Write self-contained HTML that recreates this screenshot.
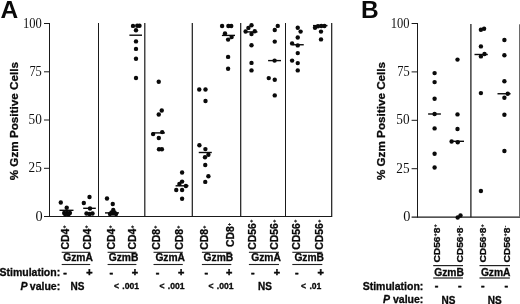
<!DOCTYPE html>
<html><head><meta charset="utf-8"><title>Figure</title>
<style>
html,body{margin:0;padding:0;background:#fff;}
body{width:520px;height:304px;position:relative;overflow:hidden;font-family:"Liberation Sans",sans-serif;}
svg text{font-family:"Liberation Sans",sans-serif;fill:#0a0a0a;}
.tk{font-family:"Liberation Serif",serif;font-size:13.8px;fill:#111;}
.pl{font-size:24.5px;font-weight:bold;}
.yl{font-size:11.7px;font-weight:bold;stroke:#0a0a0a;stroke-width:0.3px;}
.cl{font-size:10.5px;font-weight:bold;stroke:#0a0a0a;stroke-width:0.3px;}
.sp{font-size:5.6px;font-weight:bold;stroke-width:0.15px;}
.gz{font-size:10.25px;font-weight:bold;stroke:#0a0a0a;stroke-width:0.3px;}
.st{font-size:10.5px;font-weight:bold;stroke:#0a0a0a;stroke-width:0.3px;}
.pm{font-size:10.8px;font-weight:bold;stroke:#0a0a0a;stroke-width:0.5px;}
.pv{font-size:8.6px;font-weight:bold;stroke:#0a0a0a;stroke-width:0.3px;}
.ns{font-size:10px;font-weight:bold;stroke:#0a0a0a;stroke-width:0.3px;}
</style></head><body>
<svg width="520" height="304" viewBox="0 0 520 304" style="position:absolute;left:0;top:0;will-change:transform;opacity:0.999">
<rect width="520" height="304" fill="#fff"/>
<line x1="49.5" y1="23" x2="49.5" y2="217.0" stroke="#1a1a1a" stroke-width="1"/>
<line x1="44" y1="216.5" x2="332.2" y2="216.5" stroke="#1a1a1a" stroke-width="1"/>
<line x1="44" y1="23.5" x2="49.5" y2="23.5" stroke="#1a1a1a" stroke-width="1"/>
<line x1="44" y1="71.8" x2="49.5" y2="71.8" stroke="#1a1a1a" stroke-width="1"/>
<line x1="44" y1="120" x2="49.5" y2="120" stroke="#1a1a1a" stroke-width="1"/>
<line x1="44" y1="168.3" x2="49.5" y2="168.3" stroke="#1a1a1a" stroke-width="1"/>
<text transform="translate(41.8,27.6) scale(0.91,1)" text-anchor="end" class="tk">100</text>
<text transform="translate(41.8,75.89999999999999) scale(0.9,1)" text-anchor="end" class="tk">75</text>
<text transform="translate(41.8,124.1) scale(0.96,1)" text-anchor="end" class="tk">50</text>
<text transform="translate(41.8,172.4) scale(0.96,1)" text-anchor="end" class="tk">25</text>
<text transform="translate(42.699999999999996,220.6) scale(1.04,1)" text-anchor="end" class="tk">0</text>
<line x1="417.5" y1="23" x2="417.5" y2="217.65" stroke="#1a1a1a" stroke-width="1"/>
<line x1="411.6" y1="217.15" x2="520" y2="217.15" stroke="#1a1a1a" stroke-width="1.25"/>
<line x1="411.6" y1="23.5" x2="417.5" y2="23.5" stroke="#1a1a1a" stroke-width="1"/>
<line x1="411.6" y1="71.9" x2="417.5" y2="71.9" stroke="#1a1a1a" stroke-width="1"/>
<line x1="411.6" y1="120.3" x2="417.5" y2="120.3" stroke="#1a1a1a" stroke-width="1"/>
<line x1="411.6" y1="168.7" x2="417.5" y2="168.7" stroke="#1a1a1a" stroke-width="1"/>
<text transform="translate(409.6,27.6) scale(0.91,1)" text-anchor="end" class="tk">100</text>
<text transform="translate(409.6,76.0) scale(0.9,1)" text-anchor="end" class="tk">75</text>
<text transform="translate(409.6,124.39999999999999) scale(0.96,1)" text-anchor="end" class="tk">50</text>
<text transform="translate(409.6,172.79999999999998) scale(0.96,1)" text-anchor="end" class="tk">25</text>
<text transform="translate(410.5,221.25) scale(1.04,1)" text-anchor="end" class="tk">0</text>
<line x1="98.5" y1="23" x2="98.5" y2="216.5" stroke="#1a1a1a" stroke-width="1"/>
<line x1="144.8" y1="23" x2="144.8" y2="216.5" stroke="#1a1a1a" stroke-width="1.2"/>
<line x1="192.3" y1="23" x2="192.3" y2="216.5" stroke="#1a1a1a" stroke-width="1.2"/>
<line x1="240.7" y1="23" x2="240.7" y2="216.5" stroke="#1a1a1a" stroke-width="1.2"/>
<line x1="285.5" y1="23" x2="285.5" y2="216.5" stroke="#1a1a1a" stroke-width="1"/>
<line x1="331.7" y1="23" x2="331.7" y2="216.5" stroke="#1a1a1a" stroke-width="1.2"/>
<line x1="470.9" y1="24" x2="470.9" y2="217.15" stroke="#1a1a1a" stroke-width="1.25"/>
<line x1="519.5" y1="24.3" x2="519.5" y2="217.15" stroke="#6a6a6a" stroke-width="1"/>
<circle cx="60.8" cy="202.5" r="2.2" fill="#0a0a0a"/>
<circle cx="66.7" cy="207.7" r="2.2" fill="#0a0a0a"/>
<circle cx="64.2" cy="212.9" r="2.2" fill="#0a0a0a"/>
<circle cx="67.1" cy="212.9" r="2.2" fill="#0a0a0a"/>
<circle cx="69.9" cy="212.9" r="2.2" fill="#0a0a0a"/>
<circle cx="65.2" cy="214.3" r="2.2" fill="#0a0a0a"/>
<circle cx="68.6" cy="214.3" r="2.2" fill="#0a0a0a"/>
<circle cx="89.5" cy="197" r="2.2" fill="#0a0a0a"/>
<circle cx="83.8" cy="203" r="2.2" fill="#0a0a0a"/>
<circle cx="90" cy="208.5" r="2.2" fill="#0a0a0a"/>
<circle cx="86.5" cy="213.5" r="2.2" fill="#0a0a0a"/>
<circle cx="89.5" cy="214" r="2.2" fill="#0a0a0a"/>
<circle cx="92.5" cy="213.5" r="2.2" fill="#0a0a0a"/>
<circle cx="107" cy="198.5" r="2.2" fill="#0a0a0a"/>
<circle cx="112.75" cy="204" r="2.2" fill="#0a0a0a"/>
<circle cx="113.25" cy="210" r="2.2" fill="#0a0a0a"/>
<circle cx="110" cy="214" r="2.2" fill="#0a0a0a"/>
<circle cx="113" cy="213.5" r="2.2" fill="#0a0a0a"/>
<circle cx="116" cy="214" r="2.2" fill="#0a0a0a"/>
<circle cx="111.5" cy="212.5" r="2.2" fill="#0a0a0a"/>
<circle cx="114.5" cy="212.5" r="2.2" fill="#0a0a0a"/>
<circle cx="133" cy="25.9" r="2.2" fill="#0a0a0a"/>
<circle cx="137.2" cy="25.8" r="2.2" fill="#0a0a0a"/>
<circle cx="139.5" cy="25.8" r="2.2" fill="#0a0a0a"/>
<circle cx="136" cy="30.2" r="2.2" fill="#0a0a0a"/>
<circle cx="136" cy="41.4" r="2.2" fill="#0a0a0a"/>
<circle cx="136" cy="48.9" r="2.2" fill="#0a0a0a"/>
<circle cx="136" cy="58.75" r="2.2" fill="#0a0a0a"/>
<circle cx="136" cy="78" r="2.2" fill="#0a0a0a"/>
<circle cx="158.75" cy="81.75" r="2.2" fill="#0a0a0a"/>
<circle cx="161.75" cy="110.5" r="2.2" fill="#0a0a0a"/>
<circle cx="158.75" cy="114.5" r="2.2" fill="#0a0a0a"/>
<circle cx="162.2" cy="132.1" r="2.2" fill="#0a0a0a"/>
<circle cx="153.1" cy="134.1" r="2.2" fill="#0a0a0a"/>
<circle cx="158.8" cy="138" r="2.2" fill="#0a0a0a"/>
<circle cx="159" cy="149.3" r="2.2" fill="#0a0a0a"/>
<circle cx="161.9" cy="149.3" r="2.2" fill="#0a0a0a"/>
<circle cx="182.1" cy="172.5" r="2.2" fill="#0a0a0a"/>
<circle cx="182.1" cy="181.6" r="2.2" fill="#0a0a0a"/>
<circle cx="179.4" cy="184" r="2.2" fill="#0a0a0a"/>
<circle cx="185.9" cy="186" r="2.2" fill="#0a0a0a"/>
<circle cx="176.25" cy="190" r="2.2" fill="#0a0a0a"/>
<circle cx="182.1" cy="190" r="2.2" fill="#0a0a0a"/>
<circle cx="182.1" cy="198.75" r="2.2" fill="#0a0a0a"/>
<circle cx="199.25" cy="89.5" r="2.2" fill="#0a0a0a"/>
<circle cx="205.5" cy="89.5" r="2.2" fill="#0a0a0a"/>
<circle cx="205.5" cy="101" r="2.2" fill="#0a0a0a"/>
<circle cx="199.4" cy="145.25" r="2.2" fill="#0a0a0a"/>
<circle cx="205.4" cy="149.1" r="2.2" fill="#0a0a0a"/>
<circle cx="208.4" cy="154.75" r="2.2" fill="#0a0a0a"/>
<circle cx="205" cy="157.25" r="2.2" fill="#0a0a0a"/>
<circle cx="205.25" cy="165" r="2.2" fill="#0a0a0a"/>
<circle cx="208.4" cy="176.25" r="2.2" fill="#0a0a0a"/>
<circle cx="205.25" cy="181.9" r="2.2" fill="#0a0a0a"/>
<circle cx="222.1" cy="26" r="2.2" fill="#0a0a0a"/>
<circle cx="228.4" cy="26" r="2.2" fill="#0a0a0a"/>
<circle cx="231.25" cy="26" r="2.2" fill="#0a0a0a"/>
<circle cx="225" cy="33.5" r="2.2" fill="#0a0a0a"/>
<circle cx="231.6" cy="37.1" r="2.2" fill="#0a0a0a"/>
<circle cx="228.1" cy="39.6" r="2.2" fill="#0a0a0a"/>
<circle cx="228.1" cy="56.9" r="2.2" fill="#0a0a0a"/>
<circle cx="228.1" cy="68.75" r="2.2" fill="#0a0a0a"/>
<circle cx="251.5" cy="25.25" r="2.2" fill="#0a0a0a"/>
<circle cx="248.4" cy="27.9" r="2.2" fill="#0a0a0a"/>
<circle cx="245.6" cy="31.5" r="2.2" fill="#0a0a0a"/>
<circle cx="254.75" cy="31.25" r="2.2" fill="#0a0a0a"/>
<circle cx="251.5" cy="34" r="2.2" fill="#0a0a0a"/>
<circle cx="251.5" cy="45.25" r="2.2" fill="#0a0a0a"/>
<circle cx="251.5" cy="62.9" r="2.2" fill="#0a0a0a"/>
<circle cx="251.5" cy="70.4" r="2.2" fill="#0a0a0a"/>
<circle cx="277.75" cy="25.9" r="2.2" fill="#0a0a0a"/>
<circle cx="274.75" cy="30" r="2.2" fill="#0a0a0a"/>
<circle cx="274.75" cy="41.6" r="2.2" fill="#0a0a0a"/>
<circle cx="274.6" cy="60.6" r="2.2" fill="#0a0a0a"/>
<circle cx="268.75" cy="78.1" r="2.2" fill="#0a0a0a"/>
<circle cx="274.75" cy="79.75" r="2.2" fill="#0a0a0a"/>
<circle cx="274.75" cy="95.4" r="2.2" fill="#0a0a0a"/>
<circle cx="297.75" cy="27.75" r="2.2" fill="#0a0a0a"/>
<circle cx="300.6" cy="31.6" r="2.2" fill="#0a0a0a"/>
<circle cx="297.75" cy="37.5" r="2.2" fill="#0a0a0a"/>
<circle cx="292.1" cy="43.4" r="2.2" fill="#0a0a0a"/>
<circle cx="297.75" cy="45.4" r="2.2" fill="#0a0a0a"/>
<circle cx="297.75" cy="53.1" r="2.2" fill="#0a0a0a"/>
<circle cx="292.1" cy="60.6" r="2.2" fill="#0a0a0a"/>
<circle cx="297.75" cy="63.1" r="2.2" fill="#0a0a0a"/>
<circle cx="297.75" cy="70.4" r="2.2" fill="#0a0a0a"/>
<circle cx="315" cy="27.75" r="2.2" fill="#0a0a0a"/>
<circle cx="318" cy="26.25" r="2.2" fill="#0a0a0a"/>
<circle cx="321.25" cy="26" r="2.2" fill="#0a0a0a"/>
<circle cx="324.4" cy="26" r="2.2" fill="#0a0a0a"/>
<circle cx="321" cy="31.6" r="2.2" fill="#0a0a0a"/>
<circle cx="321" cy="39.4" r="2.2" fill="#0a0a0a"/>
<circle cx="434.6" cy="73.1" r="2.2" fill="#0a0a0a"/>
<circle cx="434.6" cy="82.1" r="2.2" fill="#0a0a0a"/>
<circle cx="434.6" cy="98.75" r="2.2" fill="#0a0a0a"/>
<circle cx="434.6" cy="114" r="2.2" fill="#0a0a0a"/>
<circle cx="434.6" cy="128.4" r="2.2" fill="#0a0a0a"/>
<circle cx="434.6" cy="153.75" r="2.2" fill="#0a0a0a"/>
<circle cx="434.6" cy="167.5" r="2.2" fill="#0a0a0a"/>
<circle cx="457.5" cy="59.6" r="2.2" fill="#0a0a0a"/>
<circle cx="457.5" cy="114.4" r="2.2" fill="#0a0a0a"/>
<circle cx="457.5" cy="129" r="2.2" fill="#0a0a0a"/>
<circle cx="451.6" cy="141.5" r="2.2" fill="#0a0a0a"/>
<circle cx="457.75" cy="142.25" r="2.2" fill="#0a0a0a"/>
<circle cx="457.7" cy="217.5" r="2.2" fill="#0a0a0a"/>
<circle cx="460.5" cy="215.5" r="2.2" fill="#0a0a0a"/>
<circle cx="480.9" cy="29.75" r="2.2" fill="#0a0a0a"/>
<circle cx="484.1" cy="28.75" r="2.2" fill="#0a0a0a"/>
<circle cx="480.9" cy="46.4" r="2.2" fill="#0a0a0a"/>
<circle cx="484.5" cy="54" r="2.2" fill="#0a0a0a"/>
<circle cx="480.9" cy="56.4" r="2.2" fill="#0a0a0a"/>
<circle cx="480.9" cy="93.1" r="2.2" fill="#0a0a0a"/>
<circle cx="480.9" cy="191" r="2.2" fill="#0a0a0a"/>
<circle cx="504.4" cy="40" r="2.2" fill="#0a0a0a"/>
<circle cx="504.4" cy="55.3" r="2.2" fill="#0a0a0a"/>
<circle cx="504.4" cy="81.25" r="2.2" fill="#0a0a0a"/>
<circle cx="507.75" cy="93.75" r="2.2" fill="#0a0a0a"/>
<circle cx="504.4" cy="97.75" r="2.2" fill="#0a0a0a"/>
<circle cx="504.4" cy="114.75" r="2.2" fill="#0a0a0a"/>
<circle cx="504.4" cy="151" r="2.2" fill="#0a0a0a"/>
<line x1="59.5" y1="210.3" x2="73.5" y2="210.3" stroke="#0a0a0a" stroke-width="1.4"/>
<line x1="83.2" y1="208.3" x2="95.8" y2="208.3" stroke="#0a0a0a" stroke-width="1.4"/>
<line x1="105" y1="212.9" x2="119" y2="212.9" stroke="#0a0a0a" stroke-width="1.4"/>
<line x1="129.4" y1="35.2" x2="142" y2="35.2" stroke="#0a0a0a" stroke-width="1.4"/>
<line x1="152" y1="132.9" x2="164.9" y2="132.9" stroke="#0a0a0a" stroke-width="1.4"/>
<line x1="175.6" y1="185.8" x2="188.5" y2="185.8" stroke="#0a0a0a" stroke-width="1.4"/>
<line x1="198.75" y1="152.5" x2="211.8" y2="152.5" stroke="#0a0a0a" stroke-width="1.4"/>
<line x1="221.9" y1="35.4" x2="235" y2="35.4" stroke="#0a0a0a" stroke-width="1.4"/>
<line x1="244.4" y1="31.9" x2="257.5" y2="31.9" stroke="#0a0a0a" stroke-width="1.4"/>
<line x1="268.1" y1="60.6" x2="281" y2="60.6" stroke="#0a0a0a" stroke-width="1.4"/>
<line x1="292.5" y1="44.75" x2="303.75" y2="44.75" stroke="#0a0a0a" stroke-width="1.4"/>
<line x1="313" y1="25.6" x2="327.5" y2="25.6" stroke="#0a0a0a" stroke-width="1.4"/>
<line x1="428.1" y1="114" x2="440.9" y2="114" stroke="#0a0a0a" stroke-width="1.4"/>
<line x1="450.6" y1="141.3" x2="464" y2="141.3" stroke="#0a0a0a" stroke-width="1.4"/>
<line x1="474.5" y1="54.5" x2="487.8" y2="54.5" stroke="#0a0a0a" stroke-width="1.4"/>
<line x1="497.5" y1="93.75" x2="510.6" y2="93.75" stroke="#0a0a0a" stroke-width="1.4"/>
<text x="0.6" y="18.2" class="pl">A</text>
<text x="361" y="18.2" class="pl">B</text>
<text transform="translate(18.3,121.2) rotate(-90)" text-anchor="middle" class="yl">% Gzm Positive Cells</text>
<text transform="translate(385.2,121) rotate(-90)" text-anchor="middle" class="yl">% Gzm Positive Cells</text>
<text transform="translate(68.8,249.5) rotate(-90) scale(0.99,0.965)" class="cl">CD4<tspan dy="-2.5" dx="0.3" class="sp">+</tspan></text>
<text transform="translate(90.7,249.5) rotate(-90) scale(0.99,0.965)" class="cl">CD4<tspan dy="-2.5" dx="0.3" class="sp">+</tspan></text>
<text transform="translate(114.5,249.5) rotate(-90) scale(0.99,0.965)" class="cl">CD4<tspan dy="-2.5" dx="0.3" class="sp">+</tspan></text>
<text transform="translate(136.2,249.5) rotate(-90) scale(0.99,0.965)" class="cl">CD4<tspan dy="-2.5" dx="0.3" class="sp">+</tspan></text>
<text transform="translate(159.8,249.7) rotate(-90) scale(0.99,0.965)" class="cl">CD8<tspan dy="-2.5" dx="0.3" class="sp">+</tspan></text>
<text transform="translate(182.8,249.7) rotate(-90) scale(0.99,0.965)" class="cl">CD8<tspan dy="-2.5" dx="0.3" class="sp">+</tspan></text>
<text transform="translate(208,249.7) rotate(-90) scale(0.99,0.965)" class="cl">CD8<tspan dy="-2.5" dx="0.3" class="sp">+</tspan></text>
<text transform="translate(233.5,247.0) rotate(-90) scale(0.99,0.965)" class="cl">CD8<tspan dy="-2.5" dx="0.3" class="sp">+</tspan></text>
<text transform="translate(255.9,249.7) rotate(-90) scale(0.99,0.965)" class="cl">CD56<tspan dy="-2.5" dx="0.3" class="sp">+</tspan></text>
<text transform="translate(278,249.7) rotate(-90) scale(0.99,0.965)" class="cl">CD56<tspan dy="-2.5" dx="0.3" class="sp">+</tspan></text>
<text transform="translate(299.5,249.7) rotate(-90) scale(0.99,0.965)" class="cl">CD56<tspan dy="-2.5" dx="0.3" class="sp">+</tspan></text>
<text transform="translate(323,249.7) rotate(-90) scale(0.99,0.965)" class="cl">CD56<tspan dy="-2.5" dx="0.3" class="sp">+</tspan></text>
<line x1="61.7" y1="252.3" x2="90.2" y2="252.3" stroke="#222" stroke-width="1.1"/>
<line x1="61.7" y1="264.5" x2="90.2" y2="264.5" stroke="#222" stroke-width="1.1"/>
<text x="92.9" y="261.3" text-anchor="end" class="gz">GzmA</text>
<line x1="107.6" y1="252.3" x2="136.4" y2="252.3" stroke="#222" stroke-width="1.1"/>
<line x1="107.6" y1="264.5" x2="136.4" y2="264.5" stroke="#222" stroke-width="1.1"/>
<text x="138.4" y="261.3" text-anchor="end" class="gz">GzmB</text>
<line x1="153.5" y1="252.3" x2="182.8" y2="252.3" stroke="#222" stroke-width="1.1"/>
<line x1="153.5" y1="264.5" x2="182.8" y2="264.5" stroke="#222" stroke-width="1.1"/>
<text x="185" y="261.3" text-anchor="end" class="gz">GzmA</text>
<line x1="201.9" y1="252.3" x2="231.3" y2="252.3" stroke="#222" stroke-width="1.1"/>
<line x1="201.9" y1="264.5" x2="231.3" y2="264.5" stroke="#222" stroke-width="1.1"/>
<text x="233.2" y="261.3" text-anchor="end" class="gz">GzmB</text>
<line x1="248.9" y1="252.3" x2="279" y2="252.3" stroke="#222" stroke-width="1.1"/>
<line x1="248.9" y1="264.5" x2="279" y2="264.5" stroke="#222" stroke-width="1.1"/>
<text x="280.8" y="261.3" text-anchor="end" class="gz">GzmA</text>
<line x1="292.3" y1="252.3" x2="322.3" y2="252.3" stroke="#222" stroke-width="1.1"/>
<line x1="292.3" y1="264.5" x2="322.3" y2="264.5" stroke="#222" stroke-width="1.1"/>
<text x="324" y="261.3" text-anchor="end" class="gz">GzmB</text>
<text x="60.2" y="276.3" text-anchor="end" class="st">Stimulation:</text>
<text x="60.2" y="289.6" text-anchor="end" class="st"><tspan font-style="italic">P</tspan><tspan dx="-0.6"> value:</tspan></text>
<text x="65" y="276.2" text-anchor="middle" class="pm">-</text>
<text x="89.5" y="276.2" text-anchor="middle" class="pm">+</text>
<text x="111.3" y="276.2" text-anchor="middle" class="pm">-</text>
<text x="135" y="276.2" text-anchor="middle" class="pm">+</text>
<text x="157.5" y="276.2" text-anchor="middle" class="pm">-</text>
<text x="181.2" y="276.2" text-anchor="middle" class="pm">+</text>
<text x="206.2" y="276.2" text-anchor="middle" class="pm">-</text>
<text x="229.2" y="276.2" text-anchor="middle" class="pm">+</text>
<text x="252.9" y="276.2" text-anchor="middle" class="pm">-</text>
<text x="276.9" y="276.2" text-anchor="middle" class="pm">+</text>
<text x="296.9" y="276.2" text-anchor="middle" class="pm">-</text>
<text x="320.6" y="276.2" text-anchor="middle" class="pm">+</text>
<text x="77.5" y="289.6" text-anchor="middle" class="ns">NS</text>
<text x="126.5" y="289.1" text-anchor="middle" class="pv">&lt;<tspan dx="1"> .001</tspan></text>
<text x="172" y="289.1" text-anchor="middle" class="pv">&lt;<tspan dx="1"> .001</tspan></text>
<text x="221" y="289.1" text-anchor="middle" class="pv">&lt;<tspan dx="1"> .001</tspan></text>
<text x="265" y="289.6" text-anchor="middle" class="ns">NS</text>
<text x="311.2" y="289.1" text-anchor="middle" class="pv">&lt;<tspan dx="1"> .01</tspan></text>
<text transform="translate(439.8,262.5) rotate(-90) scale(0.97,0.95)" class="cl">CD56<tspan dy="-2.6" class="sp">+</tspan><tspan dy="2.6">8</tspan><tspan dy="-2.6" class="sp">+</tspan></text>
<text transform="translate(463.4,262.5) rotate(-90) scale(0.97,0.95)" class="cl">CD56<tspan dy="-2.6" class="sp">+</tspan><tspan dy="2.6">8</tspan><tspan dy="-2.6" class="sp">-</tspan></text>
<text transform="translate(486.2,262.5) rotate(-90) scale(0.97,0.95)" class="cl">CD56<tspan dy="-2.6" class="sp">+</tspan><tspan dy="2.6">8</tspan><tspan dy="-2.6" class="sp">+</tspan></text>
<text transform="translate(509.5,262.5) rotate(-90) scale(0.97,0.95)" class="cl">CD56<tspan dy="-2.6" class="sp">+</tspan><tspan dy="2.6">8</tspan><tspan dy="-2.6" class="sp">-</tspan></text>
<line x1="433.2" y1="265.6" x2="463" y2="265.6" stroke="#222" stroke-width="1.2"/>
<line x1="433.2" y1="278" x2="463" y2="278" stroke="#222" stroke-width="1.2"/>
<text x="463.8" y="275.5" text-anchor="end" class="gz">GzmB</text>
<line x1="479.5" y1="265.6" x2="510" y2="265.6" stroke="#222" stroke-width="1.2"/>
<line x1="479.5" y1="278" x2="510" y2="278" stroke="#222" stroke-width="1.2"/>
<text x="510.5" y="275.5" text-anchor="end" class="gz">GzmA</text>
<text x="423.3" y="289.6" text-anchor="end" class="st">Stimulation:</text>
<text x="423.3" y="303.4" text-anchor="end" class="st"><tspan font-style="italic">P</tspan> value:</text>
<text x="436.5" y="289.4" text-anchor="middle" class="pm">-</text>
<text x="459.8" y="289.4" text-anchor="middle" class="pm">-</text>
<text x="482.8" y="289.4" text-anchor="middle" class="pm">-</text>
<text x="506.2" y="289.4" text-anchor="middle" class="pm">-</text>
<text x="448.5" y="303.6" text-anchor="middle" class="ns">NS</text>
<text x="494.7" y="303.6" text-anchor="middle" class="ns">NS</text>
</svg>
</body></html>
